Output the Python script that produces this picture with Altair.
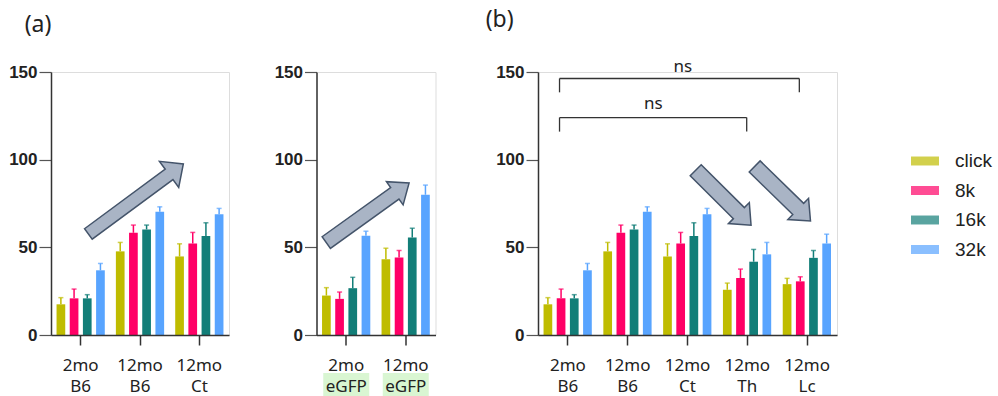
import altair as alt
import pandas as pd

# ---------------- data ----------------
series = ["click", "8k", "16k", "32k"]
colors = ["#BFBC00", "#FF0066", "#127E78", "#58A4FF"]

groups_a1 = ["2mo B6", "12mo B6", "12mo Ct"]
groups_a2 = ["2mo eGFP", "12mo eGFP"]
groups_b = ["2mo B6", "12mo B6", "12mo Ct", "12mo Th", "12mo Lc"]

# means (click, 8k, 16k, 32k)
mean_2mo_B6 = [17.5, 20.9, 20.9, 36.9]
mean_12mo_B6 = [47.7, 58.3, 60.2, 70.3]
mean_12mo_Ct = [44.8, 52.2, 56.4, 68.8]
mean_2mo_eGFP = [22.5, 20.6, 26.7, 56.6]
mean_12mo_eGFP = [43.2, 44.2, 55.6, 80.0]
mean_12mo_Th = [25.8, 32.5, 41.8, 46.0]
mean_12mo_Lc = [29.0, 30.6, 44.0, 52.2]

# upper error (SEM) lengths
sem_2mo_B6 = [3.8, 5.3, 2.1, 3.9]
sem_12mo_B6 = [5.1, 4.4, 2.5, 2.8]
sem_12mo_Ct = [7.2, 6.3, 7.6, 3.4]
sem_2mo_eGFP = [4.5, 3.9, 6.2, 2.6]
sem_12mo_eGFP = [6.3, 4.0, 5.3, 5.5]
sem_12mo_Th = [3.8, 5.1, 7.0, 6.8]
sem_12mo_Lc = [3.3, 2.6, 4.2, 5.3]

means = {
    "2mo B6": mean_2mo_B6, "12mo B6": mean_12mo_B6, "12mo Ct": mean_12mo_Ct,
    "2mo eGFP": mean_2mo_eGFP, "12mo eGFP": mean_12mo_eGFP,
    "12mo Th": mean_12mo_Th, "12mo Lc": mean_12mo_Lc,
}
sems = {
    "2mo B6": sem_2mo_B6, "12mo B6": sem_12mo_B6, "12mo Ct": sem_12mo_Ct,
    "2mo eGFP": sem_2mo_eGFP, "12mo eGFP": sem_12mo_eGFP,
    "12mo Th": sem_12mo_Th, "12mo Lc": sem_12mo_Lc,
}

# block arrows: center position (group-index units, value), length px, angle, shape ratios
arrow_panel = ["a1", "a2", "b", "b"]
arrow_x = [1.43, 0.86, 3.10, 4.09]
arrow_y = [77.6, 69.7, 78.3, 80.6]
arrow_len = [118, 102, 78, 78]
arrow_angle = [323.6, 324.3, 44.8, 44.3]
arrow_shaft = [0.11, 0.14, 0.20, 0.20]
arrow_head_w = [0.275, 0.28, 0.38, 0.38]
arrow_head_base = [0.70, 0.655, 0.56, 0.56]

# significance brackets (panel b)
br_left = [0.36, 0.36]
br_right = [4.37, 3.49]
br_top = [146.3, 124.0]
br_leg = [138.4, 116.0]
br_label = ["ns", "ns"]
br_label_x = [2.42, 1.93]
br_label_y = [153.0, 131.6]

# ---------------- styling ----------------
H = 263
FONT = "Noto Sans"
YSCALE = alt.Scale(domain=[0, 150], nice=False, zero=True)


def make_df(groups):
    rows = []
    for g in groups:
        for s, m, e in zip(series, means[g], sems[g]):
            rows.append({"group": g, "series": s, "mean": m, "top": m + e})
    return pd.DataFrame(rows)


def arrow_path(sw, hw, hb):
    return (f"M -1 {-sw} L {hb} {-sw} L {hb} {-hw} L 1 0 L {hb} {hw} "
            f"L {hb} {sw} L -1 {sw} Z")


def arrows_df(panel):
    rows = []
    for p, x, y, L, a, sw, hw, hb in zip(arrow_panel, arrow_x, arrow_y, arrow_len,
                                         arrow_angle, arrow_shaft, arrow_head_w,
                                         arrow_head_base):
        if p == panel:
            rows.append({"xi": x, "y": y, "size": L * L, "angle": a,
                         "path": arrow_path(sw, hw, hb)})
    return pd.DataFrame(rows)


color_enc = alt.Color(
    "series:N", sort=series,
    scale=alt.Scale(domain=series, range=colors),
    legend=alt.Legend(
        title=None, orient="none", legendX=860, legendY=75,
        symbolType="M -1 -0.32 L 1 -0.32 L 1 0.32 L -1 0.32 Z",
        symbolSize=784, symbolStrokeWidth=0,
        labelFont="Liberation Sans", labelFontSize=19, labelColor="#222",
        rowPadding=5.5, labelOffset=16, padding=0,
    ),
)


def panel(groups, width, arrow_key, title=None, highlight=False, brackets=False):
    df = make_df(groups)
    n = len(groups)
    x = alt.X(
        "group:N", sort=groups, title=None,
        scale=alt.Scale(paddingInner=0, paddingOuter=0),
        axis=alt.Axis(
            labelAngle=0, labelExpr="split(datum.label, ' ')",
            labelFont=FONT, labelFontSize=17, labelLineHeight=21.5,
            labelColor="#222", tickSize=10, tickColor="#333", tickWidth=1.5,
            domainColor="#333", domainWidth=1.5, labelPadding=12, zindex=1,
        ),
    )
    xo = alt.XOffset("series:N", sort=series,
                     scale=alt.Scale(paddingInner=0.34, paddingOuter=0.42))
    yaxis = alt.Axis(
        values=[0, 50, 100, 150], labelFont="Liberation Sans", labelFontSize=17,
        labelFontWeight="bold", labelColor="#222", tickSize=12, tickColor="#555",
        tickWidth=1.2, domainColor="#333", domainWidth=1.5, labelPadding=2,
        grid=False,
    )
    base = alt.Chart(df)
    bars = base.mark_bar().encode(
        x=x, xOffset=xo,
        y=alt.Y("mean:Q", scale=YSCALE, axis=yaxis, title=None),
        color=color_enc,
    )
    err = base.mark_rule(strokeWidth=1.5).encode(
        x=x, xOffset=xo,
        y=alt.Y("mean:Q", title=None), y2="top:Q", color=color_enc,
    )
    cap = base.mark_tick(thickness=1.5, size=5, orient="horizontal").encode(
        x=x, xOffset=xo, y=alt.Y("top:Q", title=None), color=color_enc,
    )
    band_layers = []
    if highlight:
        hl = alt.Chart(pd.DataFrame({"group": groups})).mark_bar(
            color="#D9F6D2", width=46
        ).encode(x=x, y=alt.value(H + 38), y2=alt.value(H + 61))
        band_layers.append(hl)
    band_layers += [bars, err, cap]

    xq = alt.X("xi:Q", scale=alt.Scale(domain=[0, n], nice=False, zero=False),
               axis=None)
    adf = arrows_df(arrow_key)
    arr = alt.Chart(adf).mark_point(
        filled=True, fill="#A9B4C5", stroke="#44546A", strokeWidth=1.5,
        opacity=1, fillOpacity=1, strokeOpacity=1,
    ).encode(
        x=xq, y=alt.Y("y:Q", title=None),
        shape=alt.Shape("path:N", scale=None),
        size=alt.Size("size:Q", scale=None),
        angle=alt.Angle("angle:Q", scale=None),
    )
    q_layers = [arr]

    if brackets:
        segs = []
        for l, r, t, b in zip(br_left, br_right, br_top, br_leg):
            segs.append({"xi": l, "xi2": r, "y": t, "y2": t})
            segs.append({"xi": l, "xi2": l, "y": t, "y2": b})
            segs.append({"xi": r, "xi2": r, "y": t, "y2": b})
        br = alt.Chart(pd.DataFrame(segs)).mark_rule(
            color="#333", strokeWidth=1.3
        ).encode(x=xq, x2="xi2:Q", y=alt.Y("y:Q", title=None), y2="y2:Q")
        lab = alt.Chart(pd.DataFrame({"xi": br_label_x, "y": br_label_y,
                                      "t": br_label})).mark_text(
            font=FONT, fontSize=17, color="#222", baseline="middle"
        ).encode(x=xq, y=alt.Y("y:Q", title=None), text="t:N")
        q_layers += [br, lab]

    ch = alt.layer(
        alt.layer(*band_layers), alt.layer(*q_layers)
    ).resolve_scale(x="independent").properties(width=width, height=H)
    if title:
        ch = ch.properties(title=title)
    return ch


tA = alt.TitleParams(text="(a)", anchor="start", frame="bounds", font=FONT,
                     fontSize=23, fontWeight="normal", color="#222", dx=16, offset=26)
tB = alt.TitleParams(text="(b)", anchor="start", frame="bounds", font=FONT,
                     fontSize=23, fontWeight="normal", color="#222", dx=-10, offset=26)

p1 = panel(groups_a1, 178, "a1", title=tA)
p2 = panel(groups_a2, 119, "a2", highlight=True)
p3 = panel(groups_b, 299, "b", title=tB, brackets=True)

chart = alt.hconcat(
    alt.hconcat(p1, p2, spacing=43.5), p3, spacing=49
).properties(
    padding={"left": 8, "top": 8, "right": 5, "bottom": 0}
).configure_view(stroke=None).configure(background="white")

chart.save("out.html", embed_options={"renderer": "svg", "actions": False})
